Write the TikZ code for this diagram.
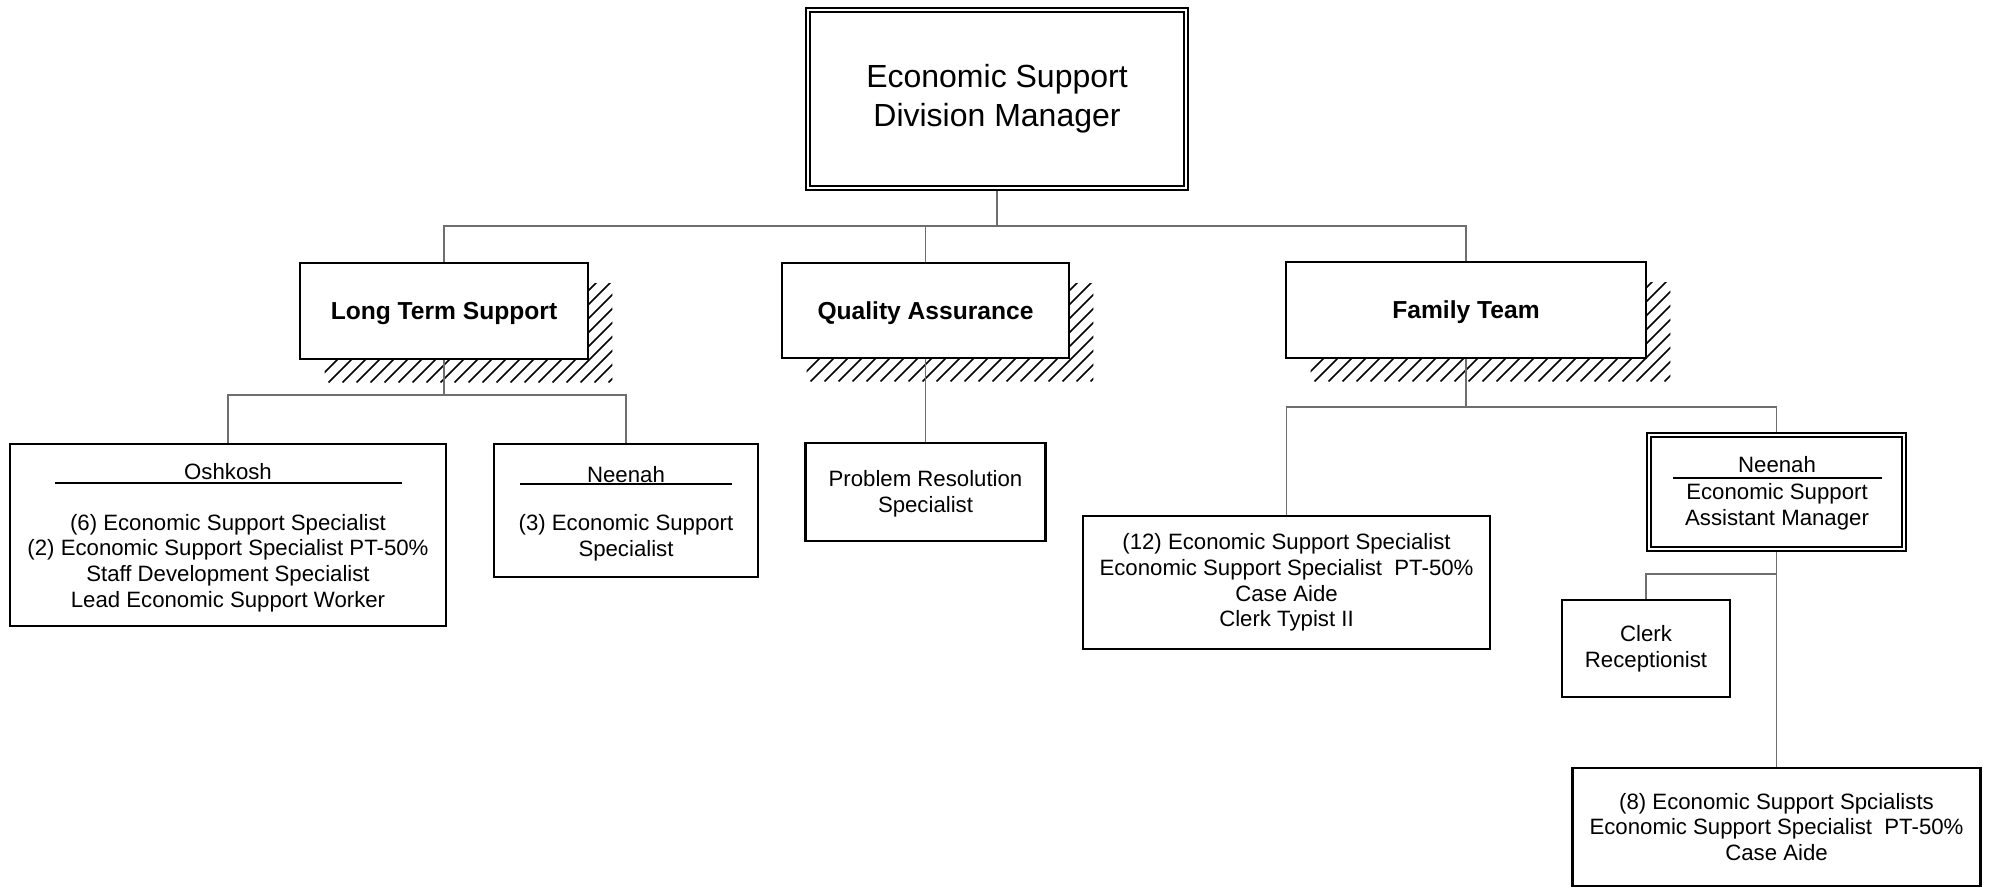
\documentclass[tikz,border=0pt]{standalone}
\usepackage{fontspec}
\setmainfont{Liberation Sans}
\pgfdeclarelayer{back}
\pgfdeclarelayer{bg}
\pgfsetlayers{back,bg,main}
\newcommand\fszbody{\fontsize{22.2}{25.8}\selectfont}
\newcommand\fszhead{\fontsize{24.6}{28}\selectfont\bfseries}
\newcommand\fsztop{\fontsize{32}{39}\selectfont}
\definecolor{connc}{RGB}{110,110,110}
\begin{document}
\begin{tikzpicture}[x=1pt,y=-1pt,
 box/.style={draw=black,line width=2.2pt,fill=white,inner sep=0pt,align=center,font=\fszbody},
 headbox/.style={draw=black,line width=2.8pt,fill=white,inner sep=0pt,align=center,font=\fszhead,text depth=0pt},
 dblbox/.style={draw=black,double=white,double distance=2.6pt,line width=1.6pt,fill=white,inner sep=0pt,align=center},
 conn/.style={draw=connc,line width=1.5pt},
 txt/.style={inner sep=0pt,align=center,font=\fszbody},
 uline/.style={draw=black,line width=1.6pt},
 hatchline/.style={draw=black,line width=1.6pt}]

\useasboundingbox (0,0) rectangle (1989,889);
\begin{pgfonlayer}{back}\fill[white] (0,0) rectangle (1989,889);\end{pgfonlayer}

% top
\node[dblbox,minimum width=378,minimum height=178,font=\fsztop] (dm) at (997,99) {Economic Support\\Division Manager};

% level 1
\node[headbox,minimum width=288,minimum height=96] (lts) at (444,311) {Long Term Support};
\node[headbox,minimum width=287,minimum height=95] (qa) at (925.5,310.5) {Quality Assurance};
\node[headbox,minimum width=360,minimum height=96] (ft) at (1466,310) {Family Team};

% Long Term Support children
\node[box,minimum width=436,minimum height=182] (osh) at (228,535) {};
\node[txt] (oshh) at (228,472) {Oshkosh};
\node[txt] (oshl) at (228,563) {(6) Economic Support Specialist\\(2) Economic Support Specialist PT-50\%\\Staff Development Specialist\\Lead Economic Support Worker};
\draw[uline] (55,483) -- (402,483);

\node[box,minimum width=264,minimum height=133] (nb) at (626,510.5) {};
\node[txt] (nbh) at (626,475) {Neenah};
\node[txt] (nbl) at (626,538) {(3) Economic Support\\Specialist};
\draw[uline] (520,484) -- (732,484);

% Quality Assurance child
\node[box,minimum width=240,minimum height=98] (pr) at (925.5,492) {};
\node[txt] (prt) at (925.5,494) {Problem Resolution\\Specialist};

% Family Team children
\node[box,minimum width=407,minimum height=133] (tw) at (1286.5,582.5) {(12) Economic Support Specialist\\Economic Support Specialist\ \ PT-50\%\\Case Aide\\Clerk Typist II};

\node[dblbox,minimum width=255,minimum height=114] (na) at (1776.5,492) {};
\node[txt] (nah) at (1777,465) {Neenah};
\node[txt] (nal) at (1777,506.5) {Economic Support\\Assistant Manager};
\draw[uline] (1673,478) -- (1882,478);

\node[box,minimum width=168,minimum height=97] (cr) at (1646,648.5) {Clerk\\Receptionist};
\node[box,minimum width=408,minimum height=118] (e8) at (1776.5,827) {(8) Economic Support Spcialists\\Economic Support Specialist\ \ PT-50\%\\Case Aide};

\begin{pgfonlayer}{bg}
 \foreach \nm in {lts,qa,ft}{
  \begin{scope}
   \clip ([shift={(26,22)}]\nm.north west) rectangle ([shift={(23,22)}]\nm.south east);
   \foreach \k in {0,...,40} \draw[hatchline] ([shift={(\k*14-110,22)}]\nm.south west) -- ++(150,-150);
  \end{scope}}
 \coordinate (j0) at (997,226);
 \draw[conn] (dm.south) -- (j0);
 \draw[conn] (lts.north) |- (j0) -| (ft.north);
 \draw[conn] (qa.north) -- (qa.north |- j0);
 \coordinate (j1) at (lts.south |- 0,395);
 \draw[conn] (lts.south) -- (j1);
 \draw[conn] (osh.north) |- (j1) -| (nb.north);
 \draw[conn] (qa.south) -- (pr.north);
 \coordinate (j2) at (ft.south |- 0,407);
 \draw[conn] (ft.south) -- (j2);
 \draw[conn] (tw.north) |- (j2) -| (na.north);
 \draw[conn] (na.south) -- (e8.north);
 \coordinate (j3) at (na.south |- 0,574);
 \draw[conn] (j3) -| (cr.north);
\end{pgfonlayer}
\end{tikzpicture}
\end{document}
